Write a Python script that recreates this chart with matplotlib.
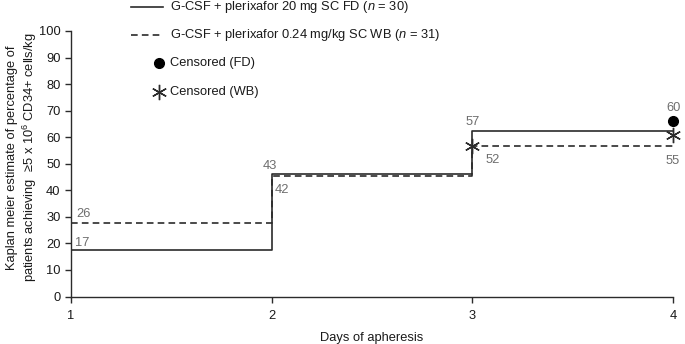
import matplotlib
matplotlib.use('Agg')
import matplotlib.pyplot as plt
from matplotlib.lines import Line2D

plt.rcParams['font.family'] = ['Liberation Sans', 'DejaVu Sans']
plt.rcParams['mathtext.fontset'] = 'custom'
plt.rcParams['mathtext.rm'] = 'Liberation Sans'
plt.rcParams['mathtext.it'] = 'Liberation Sans:italic'

# days of apheresis and Kaplan-Meier step heights (as drawn)
days = [1, 2, 3, 4]
fd_km = [17.5, 46.3, 62.2, 62.2]
wb_km = [27.5, 45.3, 56.6, 56.6]

# censored points
fd_cens_x = [4]
fd_cens_y = [66]
wb_cens_x = [3, 4]
wb_cens_y = [56.6, 60.8]

# printed percentages and where they sit
fd_labels = ['17', '43', '57', '60']
fd_lab_x = [1.055, 1.99, 3.0, 4.0]
fd_lab_y = [20, 49, 65.7, 71]
wb_labels = ['26', '42', '52', '55']
wb_lab_x = [1.06, 2.05, 3.1, 4.0]
wb_lab_y = [31, 40, 51.3, 51]

line_col = '#2b2b2b'
lab_col = '#6e6e6e'
fs = 9.3

fig = plt.figure(figsize=(6.85, 3.44), dpi=100)
ax = fig.add_axes([0.1036, 0.138, 0.879, 0.772])

ax.step(days, fd_km, where='post', color=line_col, lw=1.2)
ax.step(days, wb_km, where='post', color=line_col, lw=1.2, ls=(0, (4, 2.5)))

ax.plot(fd_cens_x, fd_cens_y, 'o', color='black', ms=7, clip_on=False)
ax.plot(wb_cens_x, wb_cens_y, marker=(6, 2, 0), ls='none', color=line_col,
        ms=11, mew=1.0, clip_on=False)

for t, x, y in zip(fd_labels, fd_lab_x, fd_lab_y):
    ax.text(x, y, t, color=lab_col, fontsize=fs, ha='center', va='center')
for t, x, y in zip(wb_labels, wb_lab_x, wb_lab_y):
    ax.text(x, y, t, color=lab_col, fontsize=fs, ha='center', va='center')

ax.set_xlim(1, 4)
ax.set_ylim(0, 100)
ax.set_xticks(days)
ax.set_yticks(range(0, 101, 10))
ax.spines['top'].set_visible(False)
ax.spines['right'].set_visible(False)
for s in ['left', 'bottom']:
    ax.spines[s].set_color(line_col)
    ax.spines[s].set_linewidth(1.0)
ax.tick_params(direction='out', length=4, width=1.0, color=line_col,
               labelsize=fs, labelcolor='#1a1a1a')
ax.tick_params(axis='x', pad=6)
ax.set_xlabel('Days of apheresis', fontsize=fs, color='#1a1a1a', labelpad=7)
ax.set_ylabel('Kaplan meier estimate of percentage of\n'
              'patients achieving  \u22655 x 10$^6$ CD34+ cells/kg',
              fontsize=fs, color='#1a1a1a', linespacing=1.25)
ax.yaxis.set_label_coords(-0.053, 0.523)

# legend drawn by hand in figure pixels
W, H = 685, 344
def fx(p):
    return p / W
def fy(p):
    return 1 - p / H

rows = [7, 35, 63, 92]
texts = ['G-CSF + plerixafor 20 mg SC FD ($n$ = 30)',
         'G-CSF + plerixafor 0.24 mg/kg SC WB ($n$ = 31)',
         'Censored (FD)',
         'Censored (WB)']
fig.add_artist(Line2D([fx(131), fx(163)], [fy(rows[0])] * 2, color=line_col, lw=1.2))
fig.add_artist(Line2D([fx(131), fx(163)], [fy(rows[1])] * 2, color=line_col, lw=1.2,
                      ls=(0, (4, 2.5))))
fig.add_artist(Line2D([fx(159)], [fy(rows[2])], marker='o', color='black', ms=7))
fig.add_artist(Line2D([fx(159)], [fy(rows[3])], marker=(6, 2, 0), color=line_col,
                      ms=11, mew=1.0))
for r, t in zip(rows, texts):
    fig.text(fx(170), fy(r), t, fontsize=fs, color='#1a1a1a', va='center', ha='left')

fig.savefig('out.png', dpi=100)
